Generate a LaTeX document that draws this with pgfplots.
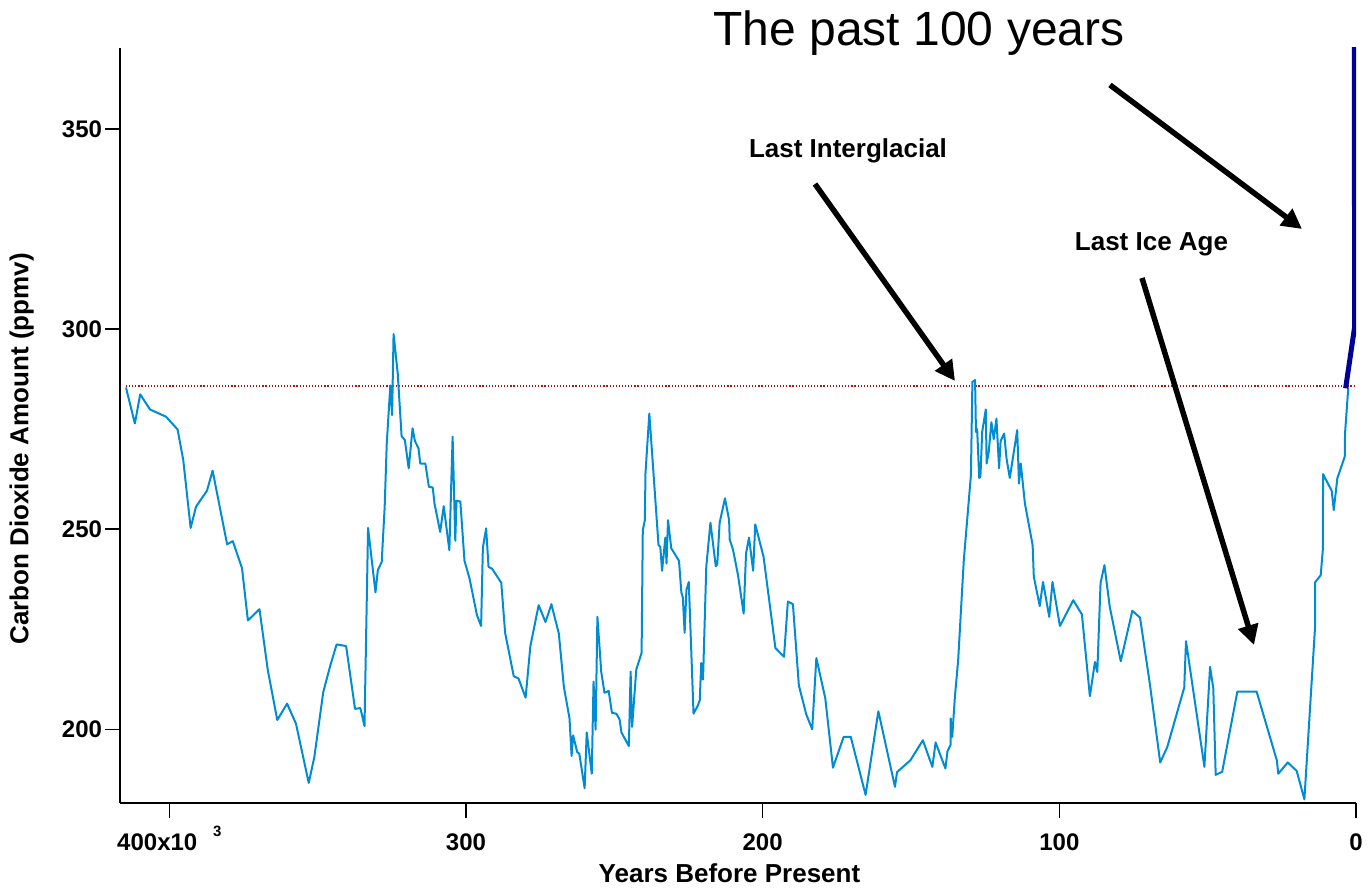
\documentclass[border=0pt]{standalone}
\usepackage{pgfplots}
\pgfplotsset{compat=1.18}
\usepackage{fontspec}
\setmainfont{Liberation Sans}
\usetikzlibrary{arrows.meta}
\definecolor{co2}{RGB}{0,140,210}
\definecolor{recent}{RGB}{0,0,153}
\definecolor{refline}{RGB}{170,20,20}
\pgfplotstableread{
x y
414.6 285.4
411.6 276.4
409.8 283.7
406.5 279.9
401.1 278.1
397.2 274.9
395.3 267.3
392.8 250.3
391.0 255.6
387.3 259.6
385.4 264.6
380.5 246.2
378.6 247.0
375.5 240.3
373.5 227.2
369.6 230.0
366.8 214.8
363.6 202.3
360.3 206.4
357.3 201.4
353.0 186.6
351.1 193.1
348.1 209.3
345.7 216.0
343.6 221.2
340.4 220.8
337.4 205.1
335.6 205.3
334.2 200.8
333.0 250.3
330.5 234.2
329.7 239.8
328.4 241.8
327.4 255.6
326.7 271.4
325.5 285.9
324.9 278.5
324.4 298.75
323.0 288.9
321.7 273.25
320.6 272.25
319.3 265.2
318.0 275.2
317.2 272.0
316.0 270.2
315.4 266.4
313.7 266.4
312.5 260.6
311.2 260.4
310.6 256.4
308.7 249.3
307.5 255.75
305.6 244.75
304.5 273.1
303.6 247.1
303.2 257.1
301.9 256.9
300.5 242.1
298.8 237.7
296.3 228.5
294.9 225.8
294.3 245.4
293.2 250.2
292.4 240.6
291.2 240.1
288.1 236.6
286.8 224.1
283.9 213.25
282.3 212.7
279.9 207.9
278.3 220.75
275.5 231.0
273.2 226.8
271.2 231.25
268.7 223.9
267.0 210.6
265.1 202.7
264.4 193.3
263.9 198.5
262.5 194.3
261.8 193.9
260.0 185.25
259.3 199.2
257.6 188.9
257.0 211.9
256.3 199.9
255.7 228.1
254.4 214.3
253.3 209.1
251.9 209.6
250.8 204.1
249.3 203.9
248.2 202.4
247.6 199.2
245.1 195.8
244.5 214.4
244.0 200.6
242.6 214.9
240.8 219.1
240.4 249.75
239.7 252.25
239.5 263.9
238.2 278.9
235.1 246.0
234.5 245.6
233.9 239.6
232.8 247.9
232.4 241.4
231.9 252.25
230.8 245.2
228.2 242.1
227.4 234.2
226.9 232.9
226.3 224.1
225.7 234.75
224.9 236.8
223.3 203.9
221.8 206.0
221.2 207.25
220.7 216.6
220.1 212.4
219.0 240.6
217.6 251.6
215.8 240.75
215.3 241.2
214.5 251.6
212.7 257.7
211.3 252.25
211.1 247.4
210.0 244.9
208.3 238.5
206.4 228.9
205.6 243.9
204.6 247.9
203.2 239.6
202.5 251.2
199.7 243.1
195.7 220.3
192.8 218.1
191.5 231.9
189.8 231.25
187.8 211.0
185.3 203.7
183.3 200.0
181.9 217.8
178.9 207.8
176.3 190.4
172.7 198.1
170.3 198.1
165.3 183.6
161.0 204.5
155.4 185.6
154.7 189.3
150.2 192.25
146.0 197.25
142.8 190.6
141.7 196.7
138.4 190.2
137.7 194.5
136.6 196.2
136.6 202.7
136.1 198.1
135.2 208.1
134.1 217.25
132.2 242.25
129.8 263.5
129.3 286.8
128.4 287.25
128.1 274.3
127.7 275.0
127.0 262.8
126.6 263.1
126.0 274.3
124.8 279.9
124.5 266.4
123.8 269.3
122.9 276.7
122.1 272.5
121.2 277.6
120.3 265.2
119.8 272.0
118.6 273.9
117.8 267.7
116.7 262.8
114.2 274.75
113.6 261.4
113.0 266.4
111.6 256.4
109.0 246.0
108.6 238.1
106.6 230.8
105.5 236.8
103.4 228.1
102.3 236.8
99.8 225.8
95.3 232.25
92.4 228.7
89.7 208.25
88.0 216.8
87.2 214.3
86.1 236.6
84.8 241.0
83.0 230.6
79.3 217.0
75.4 229.6
72.8 227.9
69.5 211.4
66.0 191.7
63.6 195.6
57.9 210.4
57.3 222.0
51.1 190.6
49.2 215.6
48.1 210.2
47.3 188.6
45.1 189.4
40.0 209.4
33.5 209.4
26.7 192.25
26.2 188.9
23.0 191.7
20.0 189.6
17.4 182.5
13.8 225.6
13.8 236.7
11.9 238.5
11.2 244.75
11.1 263.75
8.2 259.6
7.5 254.75
6.3 262.7
3.8 268.1
3.7 273.9
2.6 285.4
}\vostokdata
\begin{document}
\begin{tikzpicture}
\path[use as bounding box] (0,0) rectangle (1370bp,889bp);
\begin{axis}[
  at={(120.5bp,85.7bp)}, anchor=south west,
  width=1235.5bp, height=755.6bp, scale only axis,
  x dir=reverse,
  xmin=0, xmax=416.45, ymin=181.5, ymax=370.3,
  axis x line*=bottom, axis y line*=left,
  axis line style={line width=2bp, -},
  xtick={0,100,200,300,400},
  xticklabels={0,100,200,300,{400x10\hspace{15.7bp}\smash{\raisebox{14.4bp}{\fontsize{15bp}{15bp}\selectfont 3}}}},
  ytick={200,250,300,350},
  tick align=outside, major tick length=15bp,
  tick style={line width=1.5bp, black},
  ticklabel style={font=\fontsize{24bp}{24bp}\selectfont\bfseries},
  xticklabel style={yshift=-12bp},
  /pgf/number format/assume math mode=true,
  clip=true,
]
\addplot[refline, line width=1.5bp, dash pattern=on 1.2bp off 1.9bp] coordinates {(414.6,285.75) (0,285.75)};
\addplot[co2, line width=2bp, line join=round] table {\vostokdata};
\addplot[recent, line width=5bp] coordinates {(3.5,285.2) (0.45,300.6) (0.6,375)};
\end{axis}
\begin{scope}[x=1bp, y=-1bp, yshift=889bp]
\node[font=\fontsize{26bp}{26bp}\selectfont\bfseries, rotate=90, anchor=base, inner sep=0pt] at (28.3,449) {Carbon Dioxide Amount (ppmv)};
\node[font=\fontsize{26bp}{26bp}\selectfont\bfseries, anchor=base, inner sep=0pt] at (729.5,882.7) {Years Before Present};
\node[font=\fontsize{48bp}{48bp}\selectfont, anchor=base, inner sep=0pt] at (919,45.7) {The past 100 years};
\node[font=\fontsize{26bp}{26bp}\selectfont\bfseries, anchor=base, inner sep=0pt] at (848,158) {Last Interglacial};
\node[font=\fontsize{26bp}{26bp}\selectfont\bfseries, anchor=base, inner sep=0pt] at (1151.5,251) {Last Ice Age};
\draw[line width=5.5bp, -{Triangle[length=20bp,width=20bp]}] (815,184) -- (955,381);
\draw[line width=5.5bp, -{Triangle[length=20bp,width=20bp]}] (1110,85) -- (1302,229);
\draw[line width=5.5bp, -{Triangle[length=20bp,width=20bp]}] (1142,278) -- (1254,645);
\end{scope}
\end{tikzpicture}
\end{document}
